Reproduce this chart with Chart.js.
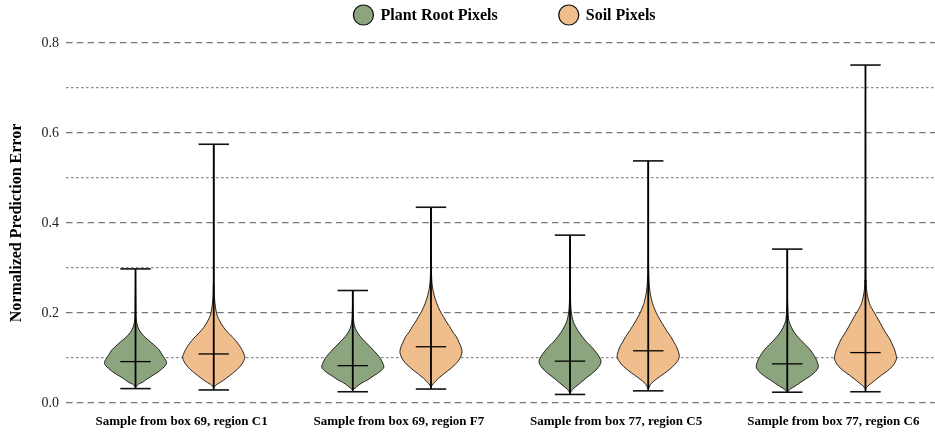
<!DOCTYPE html>
<html><head><meta charset="utf-8">
<script src="https://cdn.jsdelivr.net/npm/chart.js@4"></script>
<style>html,body{margin:0;padding:0;background:#fff}#wrap{width:935px;height:432px;position:relative}</style>
</head><body><div id="wrap"><canvas id="c"></canvas></div>
<script>
// ---- data ----
const categories = ["Sample from box 69, region C1", "Sample from box 69, region F7", "Sample from box 77, region C5", "Sample from box 77, region C6"];
const seriesNames = ["Plant Root Pixels", "Soil Pixels"];
const seriesColors = ["#8ca57f", "#f0be8c"];
const yTickValues = [0.0, 0.2, 0.4, 0.6, 0.8];

const rootMin  = [0.032, 0.025, 0.019, 0.024];
const rootMax  = [0.298, 0.250, 0.373, 0.342];
const rootMean = [0.092, 0.083, 0.093, 0.087];
const soilMin  = [0.029, 0.031, 0.027, 0.025];
const soilMax  = [0.575, 0.435, 0.538, 0.751];
const soilMean = [0.109, 0.125, 0.116, 0.112];

// density profiles: [value, relative half-width]
const rootDensity = [
  [[0.035,0],[0.042,0.10],[0.047,0.25],[0.055,0.40],[0.062,0.57],[0.070,0.75],[0.077,0.87],[0.083,0.96],[0.090,1.0],[0.099,0.94],[0.108,0.85],[0.118,0.76],[0.130,0.58],[0.140,0.41],[0.150,0.25],[0.162,0.12],[0.175,0.05],[0.190,0.02],[0.220,0.01],[0.298,0]],
  [[0.029,0],[0.038,0.16],[0.045,0.30],[0.051,0.47],[0.058,0.62],[0.066,0.80],[0.073,0.93],[0.080,1.0],[0.088,0.97],[0.095,0.92],[0.103,0.85],[0.114,0.71],[0.125,0.56],[0.136,0.40],[0.147,0.25],[0.160,0.12],[0.173,0.05],[0.190,0.02],[0.220,0.008],[0.250,0]],
  [[0.022,0],[0.030,0.08],[0.036,0.18],[0.045,0.34],[0.055,0.51],[0.064,0.68],[0.073,0.83],[0.083,0.95],[0.092,1.0],[0.100,0.96],[0.107,0.90],[0.116,0.80],[0.125,0.69],[0.136,0.53],[0.147,0.40],[0.158,0.28],[0.170,0.18],[0.185,0.09],[0.210,0.03],[0.250,0.012],[0.300,0.005],[0.373,0]],
  [[0.024,0],[0.031,0.10],[0.036,0.22],[0.043,0.37],[0.051,0.54],[0.058,0.70],[0.066,0.85],[0.074,0.96],[0.082,1.0],[0.090,0.97],[0.099,0.92],[0.108,0.84],[0.118,0.74],[0.129,0.59],[0.140,0.43],[0.151,0.29],[0.162,0.18],[0.175,0.09],[0.188,0.04],[0.220,0.012],[0.270,0.005],[0.342,0]]
];
const soilDensity = [
  [[0.033,0],[0.040,0.07],[0.047,0.24],[0.056,0.42],[0.066,0.61],[0.075,0.76],[0.084,0.88],[0.093,0.96],[0.102,1.0],[0.114,0.94],[0.123,0.87],[0.133,0.77],[0.144,0.64],[0.155,0.48],[0.168,0.32],[0.184,0.18],[0.200,0.09],[0.229,0.03],[0.260,0.015],[0.300,0.007],[0.575,0]],
  [[0.036,0],[0.045,0.10],[0.055,0.24],[0.064,0.40],[0.073,0.57],[0.085,0.77],[0.0956,0.90],[0.105,0.97],[0.114,1.0],[0.124,0.97],[0.135,0.90],[0.147,0.82],[0.158,0.70],[0.170,0.60],[0.180,0.50],[0.192,0.40],[0.205,0.29],[0.221,0.19],[0.240,0.10],[0.262,0.04],[0.290,0.015],[0.330,0.006],[0.435,0]],
  [[0.031,0],[0.038,0.05],[0.044,0.11],[0.053,0.26],[0.062,0.44],[0.071,0.62],[0.081,0.79],[0.092,0.93],[0.103,1.0],[0.114,0.97],[0.125,0.91],[0.136,0.82],[0.147,0.73],[0.158,0.62],[0.170,0.51],[0.185,0.38],[0.199,0.27],[0.215,0.17],[0.229,0.11],[0.251,0.05],[0.280,0.02],[0.330,0.008],[0.538,0]],
  [[0.031,0],[0.038,0.08],[0.044,0.19],[0.053,0.35],[0.062,0.52],[0.071,0.70],[0.081,0.86],[0.090,0.95],[0.099,1.0],[0.108,0.98],[0.118,0.94],[0.129,0.87],[0.140,0.80],[0.151,0.70],[0.162,0.60],[0.177,0.48],[0.192,0.36],[0.206,0.24],[0.221,0.13],[0.244,0.05],[0.270,0.02],[0.320,0.008],[0.751,0]]
];

// ---- drawing helpers (styles / geometry) ----
const SERIF = "'Liberation Serif','Times New Roman',serif";
const groupOffsets = [-0.18, 0.18];
const violinHalf = 0.143;
const capHalf = 0.07;

function smoothThrough(ctx, pts, move) {
  if (move) ctx.moveTo(pts[0][0], pts[0][1]); else ctx.lineTo(pts[0][0], pts[0][1]);
  for (let i = 0; i < pts.length - 1; i++) {
    const p0 = pts[Math.max(i - 1, 0)], p1 = pts[i], p2 = pts[i + 1], p3 = pts[Math.min(i + 2, pts.length - 1)];
    ctx.bezierCurveTo(p1[0] + (p2[0] - p0[0]) / 6, p1[1] + (p2[1] - p0[1]) / 6,
                      p2[0] - (p3[0] - p1[0]) / 6, p2[1] - (p3[1] - p1[1]) / 6, p2[0], p2[1]);
  }
}

const violinPlugin = {
  id: 'violins',
  afterDatasetsDraw(chart) {
    const ctx = chart.ctx, xs = chart.scales.x, ys = chart.scales.y;
    const series = [
      {dens: rootDensity, mn: rootMin, mx: rootMax, mean: rootMean, color: seriesColors[0]},
      {dens: soilDensity, mn: soilMin, mx: soilMax, mean: soilMean, color: seriesColors[1]}
    ];
    ctx.save();
    ctx.beginPath();
    ctx.rect(chart.chartArea.left, chart.chartArea.top - 2, chart.chartArea.width, chart.chartArea.height + 4);
    ctx.clip();
    series.forEach((s, si) => {
      categories.forEach((c, i) => {
        const pos = i + groupOffsets[si];
        const cx = xs.getPixelForValue(pos);
        const hw = xs.getPixelForValue(pos + violinHalf) - cx;
        const ch = xs.getPixelForValue(pos + capHalf) - cx;
        const prof = s.dens[i];
        const right = prof.map(p => [cx + p[1] * hw, ys.getPixelForValue(p[0])]);
        const left = prof.slice().reverse().map(p => [cx - p[1] * hw, ys.getPixelForValue(p[0])]);
        ctx.beginPath();
        smoothThrough(ctx, right, true);
        smoothThrough(ctx, left, false);
        ctx.closePath();
        ctx.fillStyle = s.color;
        ctx.fill();
        ctx.lineWidth = 0.9;
        ctx.strokeStyle = '#111';
        ctx.stroke();
        // vertical range line
        const yMin = ys.getPixelForValue(s.mn[i]), yMax = ys.getPixelForValue(s.mx[i]), yMean = ys.getPixelForValue(s.mean[i]);
        ctx.strokeStyle = '#000';
        ctx.lineWidth = 1.8;
        ctx.beginPath(); ctx.moveTo(cx, yMin); ctx.lineTo(cx, yMax); ctx.stroke();
        ctx.lineWidth = 1.6;
        ctx.strokeStyle = '#111';
        ctx.beginPath(); ctx.moveTo(cx - ch, yMax); ctx.lineTo(cx + ch, yMax); ctx.stroke();
        ctx.beginPath(); ctx.moveTo(cx - ch, yMin); ctx.lineTo(cx + ch, yMin); ctx.stroke();
        ctx.lineWidth = 1.3;
        ctx.strokeStyle = '#000';
        ctx.beginPath(); ctx.moveTo(cx - ch, yMean); ctx.lineTo(cx + ch, yMean); ctx.stroke();
      });
    });
    ctx.restore();
  },
  afterDraw(chart) {
    const ctx = chart.ctx;
    ctx.save();
    ctx.font = "bold 16px " + SERIF;
    ctx.textBaseline = 'middle';
    const r = 10, gapText = 7, gapItem = 61;
    const widths = seriesNames.map(n => ctx.measureText(n).width);
    const total = widths.reduce((a, w) => a + 2 * r + gapText + w, 0) + gapItem;
    let x = (chart.chartArea.left + chart.chartArea.right) / 2 + 4 - total / 2;
    const y = 15;
    seriesNames.forEach((n, k) => {
      ctx.beginPath();
      ctx.arc(x + r, y, r, 0, Math.PI * 2);
      ctx.fillStyle = seriesColors[k];
      ctx.fill();
      ctx.lineWidth = 1.2;
      ctx.strokeStyle = '#111';
      ctx.stroke();
      ctx.fillStyle = '#000';
      ctx.textAlign = 'left';
      ctx.fillText(n, x + 2 * r + gapText, y + 1);
      x += 2 * r + gapText + widths[k] + gapItem;
    });
    ctx.restore();
  }
};

const isMajor = v => Math.round(v * 10) % 2 === 0;

new Chart(document.getElementById('c'), {
  type: 'line',
  data: {
    labels: categories,
    datasets: [
      {label: seriesNames[0], data: rootMean, showLine: false, pointRadius: 0, backgroundColor: seriesColors[0], borderColor: '#000'},
      {label: seriesNames[1], data: soilMean, showLine: false, pointRadius: 0, backgroundColor: seriesColors[1], borderColor: '#000'}
    ]
  },
  options: {
    responsive: true,
    maintainAspectRatio: false,
    animation: false,
    events: [],
    layout: {padding: {top: 43, right: 0, left: 0, bottom: 0}},
    plugins: {legend: {display: false}, tooltip: {enabled: false}},
    scales: {
      x: {
        type: 'category',
        offset: true,
        grid: {display: false},
        border: {display: false},
        ticks: {font: {family: SERIF, size: 13, weight: 'bold'}, color: '#000', padding: 3, labelOffset: 7, maxRotation: 0, autoSkip: false},
        afterFit: s => { s.height = 29; }
      },
      y: {
        min: 0, max: 0.8,
        afterBuildTicks: s => {
          const t = [];
          for (let k = 0; k <= 8; k++) t.push({value: k / 10});
          s.ticks = t;
        },
        ticks: {
          autoSkip: false,
          callback: v => (isMajor(v) && yTickValues.some(t => Math.abs(t - v) < 1e-6)) ? v.toFixed(1) : '',
          font: {family: SERIF, size: 14}, color: '#222', padding: 7
        },
        grid: {
          drawTicks: false,
          color: c => (c.tick && isMajor(c.tick.value)) ? '#777' : '#8c8c8c',
          lineWidth: c => (c.tick && isMajor(c.tick.value)) ? 1.3 : 1.2
        },
        border: {
          display: false,
          dash: c => (c.tick && isMajor(c.tick.value)) ? [6.5, 4.3] : [2.6, 2.4]
        },
        title: {display: true, text: 'Normalized Prediction Error', font: {family: SERIF, size: 16, weight: 'bold'}, color: '#000', padding: {top: 7, bottom: 0}},
        afterFit: s => { s.width = 66; }
      }
    }
  },
  plugins: [violinPlugin]
});
</script>
</body></html>
